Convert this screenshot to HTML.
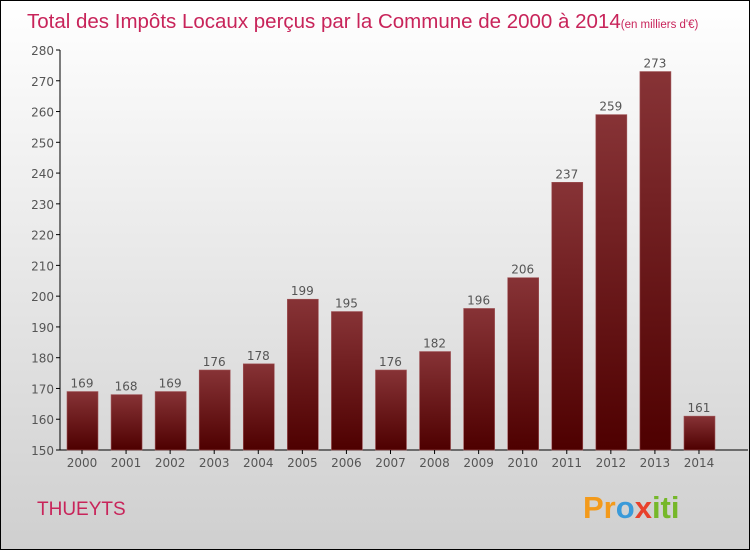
<!DOCTYPE html>
<html><head><meta charset="utf-8"><style>
body{margin:0}
#c{width:748px;height:548px;border:1px solid #000;background:linear-gradient(#ffffff,#cfcfcf);position:relative;font-family:"DejaVu Sans","Liberation Sans",sans-serif}
</style></head><body>
<div id="c">
<svg id="s" width="748" height="548" style="position:absolute;left:0;top:0">
<defs><linearGradient id="g" x1="0" y1="0" x2="0" y2="1"><stop offset="0" stop-color="#873336"/><stop offset="1" stop-color="#4e0000"/></linearGradient></defs>
<text x="26" y="27" font-size="20.5" fill="#c8245a" font-family="Liberation Sans, sans-serif">Total des Impôts Locaux perçus par la Commune de 2000 à 2014<tspan font-size="11.5">(en milliers d'€)</tspan></text>
<text x="36" y="514" font-size="19" fill="#c8245a" font-family="Liberation Sans, sans-serif">THUEYTS</text>
<text x="582" y="517" font-size="31" font-weight="bold" font-family="Liberation Sans, sans-serif"><tspan fill="#f39a1b">Pr</tspan><tspan fill="#3a9ad9">o</tspan><tspan fill="#e8412c">x</tspan><tspan fill="#76b82a">iti</tspan></text>
</svg></div>
<script>
const categories=["2000","2001","2002","2003","2004","2005","2006","2007","2008","2009","2010","2011","2012","2013","2014"];
const values=[169,168,169,176,178,199,195,176,182,196,206,237,259,273,161];
const yTicks=[150,160,170,180,190,200,210,220,230,240,250,260,270,280];
const s=document.getElementById('s'),NS='http://www.w3.org/2000/svg';
const y=v=>449-(v-150)*400/130;
const x=i=>81+i*44.07;
function mk(t,a){const e=document.createElementNS(NS,t);for(const k in a)e.setAttribute(k,a[k]);s.appendChild(e);return e;}
let ax=mk('line',{x1:59,y1:49,x2:59,y2:449,stroke:'#000'});


let bx=mk('line',{x1:59,y1:449,x2:747,y2:449,stroke:'#000'});


yTicks.forEach(v=>{
 let l=mk('line',{x1:55,x2:59,y1:y(v),y2:y(v),stroke:'#000'});
 
 
 let t=mk('text',{x:53,y:y(v)+5,'text-anchor':'end','font-size':12,fill:'#555'});t.textContent=v;
 
 
});
categories.forEach((c,i)=>{
 const v=values[i];
 let r=mk('rect',{x:x(i)-15,y:y(v),width:31,height:449-y(v),fill:'url(#g)',stroke:'#a05558','stroke-width':0.6});
 
 
 let l=mk('line',{x1:x(i),x2:x(i),y1:449,y2:453,stroke:'#000'});
 
 
 let t=mk('text',{x:x(i),y:466,'text-anchor':'middle','font-size':12,fill:'#555'});t.textContent=c;
 
 
 let vl=mk('text',{x:x(i),y:y(v)-4,'text-anchor':'middle','font-size':12,fill:'#555'});vl.textContent=v;
 
 
});
</script>
</body></html>
